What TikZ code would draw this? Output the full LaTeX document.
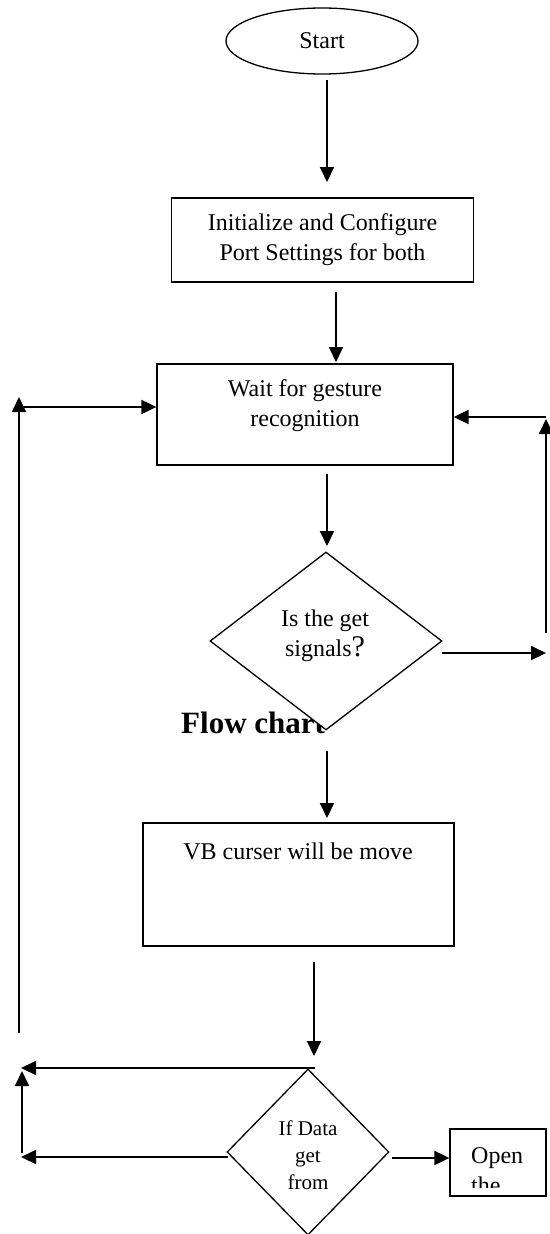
\documentclass[tikz,border=0pt]{standalone}
\usepackage{fontspec}
\setmainfont{Liberation Serif}
\usetikzlibrary{shapes.geometric,arrows.meta}
\begin{document}
\begin{tikzpicture}[x=1pt,y=-1pt,
  box/.style={draw, line width=1.3pt, inner sep=0pt, fill=white},
  conn/.style={line width=2pt, -{Triangle[length=15pt,width=14pt]}},
  txt/.style={font=\fontsize{24}{30}\selectfont, align=center, inner sep=0pt},
  smalltxt/.style={font=\fontsize{21}{27}\selectfont, align=center, inner sep=0pt},
  decision/.style={diamond, draw, line width=1.3pt, fill=white, inner sep=0pt},
]
\useasboundingbox (0,0) rectangle (549,1234);

% nodes
\node[ellipse, box, minimum width=192pt, minimum height=66pt, txt] (start) at (322,41) {Start};
\node[box, minimum width=302pt, minimum height=84pt, txt] (init) at (322.5,240) 
  {Initialize and Configure\\Port Settings for both};
\node[box, minimum width=296pt, minimum height=101pt] (wait) at (305,414.5) {};
\node[txt] (waittxt) at (305,405.5) {Wait for gesture\\recognition};

\node[font=\fontsize{31}{36}\selectfont\bfseries, inner sep=0pt, anchor=base west] (title) at (181,733) {Flow chart};

\node[decision, minimum width=232pt, minimum height=178pt] (d1) at (326,641) {};
\node[txt] (d1txt) at (325,636) {Is the get\\signals{\fontsize{30}{30}\selectfont ?}};

\node[box, minimum width=311pt, minimum height=123pt] (vb) at (298.5,884.5) {};
\node[txt] (vbtxt) at (298,851) {VB curser will be move};

\node[decision, minimum width=162pt, minimum height=166pt] (d2) at (308,1152) {};
\node[smalltxt] (d2txt) at (308,1155) {If Data\\get\\from};

\node[box, minimum width=96pt, minimum height=67pt] (open) at (498,1162.5) {};
\begin{scope}
  \clip (450,1129) rectangle (546,1187);
  \node[txt, anchor=base west] (opentxt) at (471,1163) {Open};
  \node[txt, anchor=base west] (thetxt) at (471,1193) {the};
\end{scope}

% coordinates for free ends
\coordinate (a1s) at (327,80);   \coordinate (a1e) at (327,182);
\coordinate (a2s) at (336,292);  \coordinate (a2e) at (336,362);
\coordinate (a3s) at (327,474);  \coordinate (a3e) at (327,546);
\coordinate (a4s) at (327,751);  \coordinate (a4e) at (327,818);
\coordinate (a5s) at (314,962);  \coordinate (a5e) at (314,1056);
\coordinate (L1) at (19,1033);   \coordinate (L2) at (19,397);
\coordinate (L3) at (22,407);
\coordinate (R1) at (546,633);   \coordinate (R2) at (546,419);
\coordinate (R3) at (546,417);
\coordinate (R4s) at (442,653);  \coordinate (R4e) at (546,653);
\coordinate (U1) at (315,1068);  \coordinate (U2) at (21,1068);
\coordinate (V1) at (22,1153);   \coordinate (V2) at (22,1071);
\coordinate (B1) at (228,1157);  \coordinate (B2) at (21,1157);
\coordinate (O1) at (392,1158);

% connectors
\draw[conn] (a1s) -- (a1e);
\draw[conn] (a2s) -- (a2e);
\draw[conn] (a3s) -- (a3e);
\draw[conn] (a4s) -- (a4e);
\draw[conn] (a5s) -- (a5e);
\draw[conn] (L1) -- (L2);
\draw[conn] (L3) -- (wait.west |- L3);
\draw[conn] (R1) -- (R2);
\draw[conn] (R3) -- (wait.east |- R3);
\draw[conn] (R4s) -- (R4e);
\draw[conn] (U1) -- (U2);
\draw[conn] (V1) -- (V2);
\draw[conn] (B1) -- (B2);
\draw[conn] (O1) -- (open.west |- O1);
\end{tikzpicture}
\end{document}
